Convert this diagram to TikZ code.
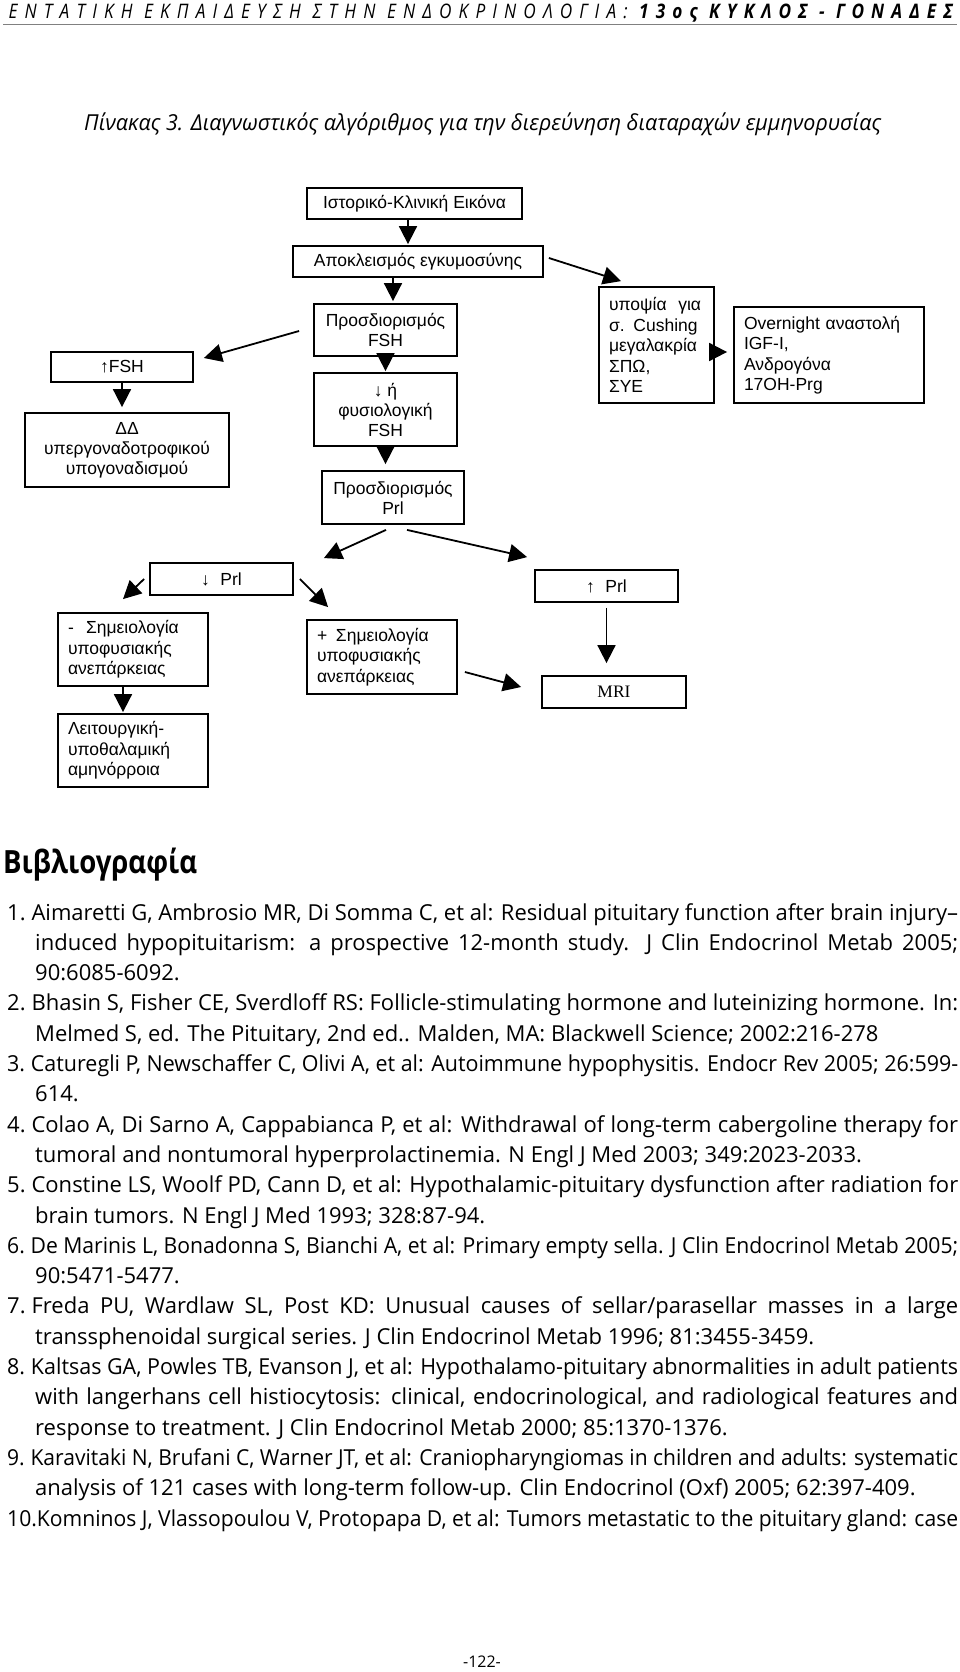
\documentclass[tikz,border=0pt]{standalone}
\usepackage{fontspec}
\usepackage{graphicx}
\setmainfont{Liberation Sans}
\newfontfamily\bibfont{Open Sans}
\newfontfamily\capfont[FakeStretch=0.88]{Open Sans}
\newfontfamily\headfont[LetterSpace=31,FakeStretch=0.75]{Open Sans}
\newfontfamily\mriserif{Liberation Serif}
\usetikzlibrary{arrows.meta,calc}
\newsavebox\fitbox
\newcommand\jl[2]{\sbox\fitbox{#2}\ifdim\wd\fitbox>#1\relax\pgfmathsetmacro\fitratio{#1/(\the\wd\fitbox)}\scalebox{\fitratio}[1]{\usebox\fitbox}\else\makebox[#1][s]{#2}\fi}
\newcommand\fitw[2]{\sbox\fitbox{#2}\pgfmathsetmacro\fitratio{#1/(\the\wd\fitbox)}\scalebox{\fitratio}[1]{\usebox\fitbox}}
\newcommand\nsp{\hspace{0.27em}}
\begin{document}
\begin{tikzpicture}[x=1pt,y=-1pt,
  box/.style={draw=black, line width=1.8pt, inner sep=0pt, align=center, font=\fontsize{17.5}{20}\selectfont},
  lbox/.style={draw=black, line width=1.8pt, inner xsep=10pt, inner ysep=0pt, align=left, font=\fontsize{17.5}{20.5}\selectfont},
  arr/.style={line width=1.8pt, -{Triangle[length=18pt,width=18pt]}},
  bib/.style={anchor=base west, inner sep=0pt, font=\bibfont\fontsize{22}{30}\selectfont}]
\path[use as bounding box, fill=white] (0,0) rectangle (960,1672);

% header
\node[anchor=base west, inner sep=0pt, font=\headfont\itshape\fontsize{20}{22}\selectfont] (hdr) at (8.5,18.5)
  {\fitw{944pt}{ΕΝΤΑΤΙΚΗ ΕΚΠΑΙΔΕΥΣΗ ΣΤΗΝ ΕΝΔΟΚΡΙΝΟΛΟΓΙΑ: {\bfseries 13ος ΚΥΚΛΟΣ - ΓΟΝΑΔΕΣ}}};
\draw[black!50, line width=1.4pt] (3,24.5) -- (957,24.5);
\node[anchor=base west, inner sep=0pt, font=\capfont\itshape\fontsize{22}{26}\selectfont] (cap) at (84,131)
  {\fitw{797pt}{Πίνακας 3. Διαγνωστικός αλγόριθμος για την διερεύνηση διαταραχών εμμηνορυσίας}};

% boxes
\node[box, minimum width=215pt, minimum height=31pt] (b1) at (414.5,203.5) {Ιστορικό-Κλινική Εικόνα};
\node[box, minimum width=250pt, minimum height=31pt] (b2) at (418,261.5) {Αποκλεισμός εγκυμοσύνης};
\node[box, minimum width=143pt, minimum height=52pt] (b3) at (385.5,330) {Προσδιορισμός\\FSH};
\node[box, minimum width=143pt, minimum height=73pt] (b4) at (385.5,409.5) {↓ ή\\φυσιολογική\\FSH};
\node[box, minimum width=142pt, minimum height=53pt] (b5) at (393,497.5) {Προσδιορισμός\\Prl};
\node[box, minimum width=142pt, minimum height=30pt] (bF) at (122,367) {↑FSH};
\node[box, minimum width=204pt, minimum height=74pt] (bD) at (127,450) {ΔΔ\\υπεργοναδοτροφικού\\υπογοναδισμού};
\node[lbox, text width=95pt, minimum height=116pt] (bU) at (656.5,345) {\mbox{υποψία\ \ για}\\σ. Cushing\\μεγαλακρία\\ΣΠΩ,\\ΣΥΕ};
\node[lbox, text width=170pt, minimum height=96pt] (bO) at (829,355) {Overnight αναστολή\\IGF-I,\\Ανδρογόνα\\17OH-Prg};
\node[box, minimum width=143pt, minimum height=32pt] (bLP) at (221.5,579) {↓\hspace{0.6em}Prl};
\node[lbox, text width=130pt, minimum height=73pt] (bM) at (133,649.5) {-\hspace{0.7em}Σημειολογία\\υποφυσιακής\\ανεπάρκειας};
\node[lbox, text width=130pt, minimum height=74pt] (bP) at (382,657) {+\hspace{0.5em}Σημειολογία\\υποφυσιακής\\ανεπάρκειας};
\node[lbox, text width=130pt, minimum height=73pt] (bL) at (133,750.5) {Λειτουργική-\\υποθαλαμική\\αμηνόρροια};
\node[box, minimum width=143pt, minimum height=32pt] (bHP) at (606.5,586) {↑\hspace{0.6em}Prl};
\node[box, minimum width=144pt, minimum height=32pt, font=\mriserif\fontsize{17.5}{20}\selectfont] (bMRI) at (614,692) {MRI};

% connectors
\draw[arr] ($(b1.south)+(-6.5,0)$) -- ($(b1.south |- b2.north)+(-6.5,-1)$);
\draw[arr] ($(b2.south -| b3.north)+(7.5,0)$) -- ($(b3.north)+(7.5,-2)$);
\draw[arr] (b3.south) -- ($(b4.north)+(0,-1)$);
\draw[arr] (b4.south) -- ($(b4.south |- b5.north)+(0,-6)$);
\draw[arr] ($(b3.west)+(-14,1)$) -- ($(bF.east)+(10,-9)$);
\draw[arr] (bF.south) -- ($(bF.south |- bD.north)+(0,-5)$);
\draw[arr] ($(b2.east)+(5,-3.5)$) -- ($(bU.north west)+(23,-5)$);
\draw[arr] ($(bU.east)+(-4,7)$) -- ($(bO.west)+(-6,-3)$);
\draw[arr] ($(b5.south)+(-7,5)$) -- ($(bLP.north east)+(30,-4)$);
\draw[arr] ($(b5.south)+(14,5)$) -- ($(bHP.north west)+(-7,-12)$);
\draw[arr] ($(bLP.west)+(-5,0)$) -- ($(bM.north)+(-10,-13)$);
\draw[arr] ($(bLP.east)+(6,0)$) -- ($(bP.north west)+(22,-12)$);
\draw[arr] ($(bM.south)+(-10,0)$) -- ($(bL.north)+(-10,-1)$);
\draw[arr] ($(bP.east)+(7,15)$) -- ($(bMRI.west)+(-20,-5)$);
\draw[arr] ($(bHP.south)+(0,5)$) -- ($(bHP.south |- bMRI.north)+(0,-12)$);

% bibliography
\node[anchor=base west, inner sep=0pt, font=\bibfont\bfseries\fontsize{32}{36}\selectfont] (bibh) at (3,873) {\fitw{194pt}{Βιβλιογραφία}};
\node[bib] (r0) at (7,920) {\jl{951pt}{1.\nsp Aimaretti G, Ambrosio MR, Di Somma C, et al: Residual pituitary function after brain injury–}};
\node[bib] (r1) at (35,950.3) {\jl{923pt}{induced hypopituitarism: a prospective 12-month study. J Clin Endocrinol Metab 2005;}};
\node[bib] (r2) at (35,980.6) {90:6085-6092.};
\node[bib] (r3) at (7,1010.9) {\jl{951pt}{2.\nsp Bhasin S, Fisher CE, Sverdloff RS: Follicle-stimulating hormone and luteinizing hormone. In:}};
\node[bib] (r4) at (35,1041.2) {Melmed S, ed. The Pituitary, 2nd ed.. Malden, MA: Blackwell Science; 2002:216-278};
\node[bib] (r5) at (7,1071.5) {\jl{951pt}{3.\nsp Caturegli P, Newschaffer C, Olivi A, et al: Autoimmune hypophysitis. Endocr Rev 2005; 26:599-}};
\node[bib] (r6) at (35,1101.8) {614.};
\node[bib] (r7) at (7,1132.1) {\jl{951pt}{4.\nsp Colao A, Di Sarno A, Cappabianca P, et al: Withdrawal of long-term cabergoline therapy for}};
\node[bib] (r8) at (35,1162.4) {tumoral and nontumoral hyperprolactinemia. N Engl J Med 2003; 349:2023-2033.};
\node[bib] (r9) at (7,1192.7) {\jl{951pt}{5.\nsp Constine LS, Woolf PD, Cann D, et al: Hypothalamic-pituitary dysfunction after radiation for}};
\node[bib] (r10) at (35,1223) {brain tumors. N Engl J Med 1993; 328:87-94.};
\node[bib] (r11) at (7,1253.3) {\jl{951pt}{6.\nsp De Marinis L, Bonadonna S, Bianchi A, et al: Primary empty sella. J Clin Endocrinol Metab 2005;}};
\node[bib] (r12) at (35,1283.6) {90:5471-5477.};
\node[bib] (r13) at (7,1313.9) {\jl{951pt}{7.\nsp Freda PU, Wardlaw SL, Post KD: Unusual causes of sellar/parasellar masses in a large}};
\node[bib] (r14) at (35,1344.2) {transsphenoidal surgical series. J Clin Endocrinol Metab 1996; 81:3455-3459.};
\node[bib] (r15) at (7,1374.5) {\jl{951pt}{8.\nsp Kaltsas GA, Powles TB, Evanson J, et al: Hypothalamo-pituitary abnormalities in adult patients}};
\node[bib] (r16) at (35,1404.8) {\jl{923pt}{with langerhans cell histiocytosis: clinical, endocrinological, and radiological features and}};
\node[bib] (r17) at (35,1435.1) {response to treatment. J Clin Endocrinol Metab 2000; 85:1370-1376.};
\node[bib] (r18) at (7,1465.4) {\jl{951pt}{9.\nsp Karavitaki N, Brufani C, Warner JT, et al: Craniopharyngiomas in children and adults: systematic}};
\node[bib] (r19) at (35,1495.7) {analysis of 121 cases with long-term follow-up. Clin Endocrinol (Oxf) 2005; 62:397-409.};
\node[bib] (r20) at (7,1526) {\jl{951pt}{10.Komninos J, Vlassopoulou V, Protopapa D, et al: Tumors metastatic to the pituitary gland: case}};

\node[anchor=base, inner sep=0pt, font=\bibfont\fontsize{16}{18}\selectfont] (pg) at (482,1667) {-122-};
\end{tikzpicture}
\end{document}
